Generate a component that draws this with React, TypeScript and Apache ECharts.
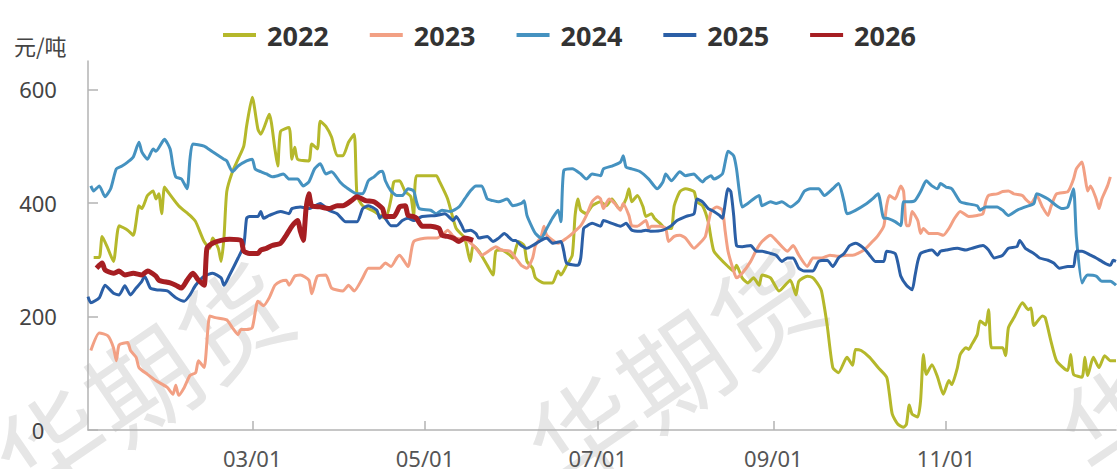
import React, { useEffect, useRef } from "react";
import * as echarts from "echarts";

// x values are day-of-year (Jan 1 = 0)
const xTickDays = [59, 120, 181, 243, 304];
const xTickLabels = ["03/01", "05/01", "07/01", "09/01", "11/01"];
const yTicks = [0, 200, 400, 600];
const seriesNames = ["2022", "2023", "2024", "2025", "2026"];
const seriesColors = ["#b5b82b", "#f2a084", "#4592c0", "#2b5fa6", "#a61e22"];

const s2022 = [[3,304],[5,304],[6,341],[8,320],[10,297],[12,360],[15,352],[17,343],[19,395],[20,390],[22,413],[24,421],[25,407],[26,416],[27,381],[28,428],[29,421],[33,395],[37,378],[39,367],[42,332],[44,320],[45,338],[47,320],[48,297],[49,338],[50,420],[52,455],[54,477],[56,500],[57,535],[59,586],[61,530],[62,521],[65,556],[67,495],[68,465],[69,526],[72,533],[73,477],[74,498],[75,477],[79,474],[80,504],[82,495],[83,544],[85,535],[87,516],[89,483],[91,483],[93,507],[95,521],[96,413],[98,395],[102,385],[106,373],[108,407],[109,437],[111,439],[113,420],[115,411],[116,378],[117,448],[121,448],[124,448],[125,439],[128,407],[131,355],[134,338],[136,297],[137,325],[139,315],[142,290],[144,273],[145,315],[147,317],[150,308],[151,303],[153,332],[155,325],[156,297],[158,285],[159,268],[162,259],[165,259],[167,280],[168,273],[170,290],[172,308],[173,378],[174,407],[175,387],[177,381],[179,395],[182,402],[184,395],[186,407],[188,393],[189,390],[191,407],[192,425],[193,402],[195,413],[197,393],[198,376],[200,381],[201,373],[203,364],[205,355],[207,355],[208,395],[210,420],[212,425],[215,420],[216,402],[218,395],[220,367],[221,338],[222,315],[224,303],[227,288],[229,280],[230,290],[232,268],[234,259],[236,268],[238,255],[239,273],[242,268],[245,245],[249,264],[251,238],[252,262],[255,271],[257,268],[259,255],[260,245],[262,185],[264,110],[266,101],[269,128],[271,114],[272,142],[274,140],[277,128],[280,110],[283,93],[284,63],[285,28],[287,10],[289,5],[290,10],[291,44],[292,28],[294,23],[295,52],[296,133],[297,98],[299,115],[301,93],[303,63],[305,87],[306,80],[308,110],[309,133],[311,145],[312,142],[313,150],[315,168],[316,192],[318,185],[319,212],[320,145],[322,145],[324,145],[325,131],[326,180],[328,198],[331,224],[333,212],[334,215],[335,184],[338,201],[339,198],[341,157],[343,122],[346,107],[347,105],[348,133],[349,98],[352,93],[353,128],[354,96],[356,128],[358,110],[360,131],[362,122],[364,122]];

const s2023 = [[2,140],[5,171],[8,166],[10,145],[11,122],[12,150],[15,154],[16,140],[18,128],[19,110],[22,98],[25,87],[29,75],[31,63],[32,79],[33,61],[35,75],[37,96],[39,101],[40,122],[42,110],[44,201],[46,198],[50,194],[52,180],[54,168],[55,177],[57,177],[59,180],[61,227],[63,219],[65,233],[67,255],[69,262],[71,264],[72,255],[74,271],[76,273],[79,264],[80,240],[82,271],[85,273],[87,250],[91,245],[93,255],[95,245],[98,268],[100,285],[104,285],[106,294],[108,288],[110,303],[111,308],[114,288],[116,332],[121,338],[124,338],[126,343],[128,352],[130,341],[131,338],[135,334],[138,320],[140,308],[143,317],[145,323],[147,317],[150,315],[152,303],[154,290],[156,285],[158,303],[159,325],[161,341],[162,359],[163,343],[167,329],[170,338],[172,346],[175,360],[177,378],[179,402],[181,411],[182,407],[183,390],[185,407],[187,399],[189,387],[190,399],[192,378],[193,360],[195,359],[198,369],[199,355],[200,359],[203,359],[205,355],[206,332],[208,341],[210,343],[212,338],[215,320],[217,329],[219,341],[221,385],[223,393],[225,387],[226,350],[227,315],[229,280],[230,268],[232,276],[235,297],[237,317],[239,332],[242,343],[244,334],[248,315],[250,325],[252,308],[255,288],[257,303],[260,303],[263,308],[266,306],[269,308],[271,308],[275,317],[278,332],[280,343],[282,359],[283,395],[284,413],[286,407],[288,430],[289,420],[290,360],[291,360],[292,385],[294,369],[295,346],[296,355],[298,346],[301,346],[303,343],[305,355],[307,373],[309,385],[312,376],[315,378],[317,381],[318,402],[319,413],[322,416],[324,420],[326,421],[328,416],[331,413],[332,407],[334,399],[336,413],[338,393],[340,378],[341,393],[343,416],[347,420],[349,442],[350,460],[352,472],[353,448],[354,421],[355,430],[357,407],[358,390],[359,407],[361,430],[362,446]];

const s2024 = [[2,430],[3,421],[5,430],[7,411],[9,425],[11,460],[13,465],[15,472],[17,481],[19,507],[20,490],[22,477],[24,495],[25,491],[28,512],[30,495],[31,465],[32,446],[34,442],[36,425],[37,477],[38,504],[42,500],[45,490],[49,477],[50,474],[52,455],[54,465],[57,474],[59,477],[60,460],[62,455],[64,451],[66,446],[68,448],[70,451],[72,442],[75,442],[77,430],[79,437],[81,460],[83,469],[85,451],[87,455],[90,437],[92,428],[96,416],[98,416],[100,439],[102,446],[104,455],[105,456],[106,439],[108,421],[110,413],[112,413],[114,425],[116,421],[117,402],[118,390],[122,387],[124,381],[126,387],[129,385],[132,393],[134,407],[136,421],[138,430],[140,430],[142,407],[144,404],[146,402],[149,407],[151,395],[154,399],[155,404],[156,378],[158,355],[159,346],[161,338],[163,355],[165,373],[167,387],[168,367],[169,457],[172,460],[175,451],[177,442],[179,451],[182,448],[183,460],[186,465],[189,472],[190,483],[191,463],[193,460],[196,455],[199,442],[202,425],[204,437],[205,451],[207,439],[210,455],[212,448],[215,451],[216,446],[218,437],[219,442],[221,448],[222,442],[225,451],[226,472],[227,491],[229,483],[230,460],[231,420],[232,393],[234,399],[236,407],[238,413],[239,395],[242,402],[244,399],[246,402],[249,393],[252,404],[254,421],[256,425],[259,425],[261,413],[264,425],[266,434],[268,402],[269,381],[272,387],[276,399],[278,407],[280,416],[282,373],[283,373],[286,367],[288,360],[289,402],[291,402],[293,404],[295,420],[297,439],[299,430],[301,425],[302,434],[304,428],[306,425],[309,402],[311,399],[315,395],[316,387],[318,393],[322,393],[324,387],[326,378],[329,387],[332,393],[335,399],[336,416],[340,407],[343,395],[345,390],[347,393],[349,425],[350,340],[352,259],[353,268],[354,273],[357,271],[359,262],[362,262],[364,255]];

const s2025 = [[1,235],[2,224],[5,233],[7,255],[10,241],[12,238],[14,254],[16,238],[18,250],[20,262],[21,271],[23,250],[25,247],[29,245],[32,233],[35,227],[37,238],[39,255],[42,271],[45,276],[48,268],[49,255],[51,273],[54,303],[56,325],[57,373],[58,376],[61,376],[62,385],[63,373],[65,378],[69,385],[72,381],[73,390],[76,393],[79,390],[83,399],[86,387],[89,381],[92,367],[96,367],[98,390],[100,395],[103,387],[104,373],[105,378],[108,360],[110,360],[112,369],[114,373],[116,369],[119,376],[124,378],[127,381],[130,369],[131,376],[133,360],[134,350],[136,352],[138,346],[139,338],[142,341],[144,332],[146,338],[148,346],[151,334],[152,334],[154,325],[156,320],[158,325],[161,334],[163,338],[165,329],[168,332],[169,315],[170,294],[174,290],[175,303],[176,355],[177,359],[179,364],[182,359],[183,369],[186,364],[189,359],[191,364],[193,352],[196,350],[198,352],[200,350],[204,352],[207,360],[209,369],[212,376],[215,381],[216,407],[218,402],[220,390],[222,385],[224,378],[225,373],[227,425],[228,420],[229,378],[230,325],[232,323],[235,325],[237,315],[239,315],[242,311],[244,308],[246,297],[248,303],[250,303],[252,285],[254,280],[257,280],[259,297],[262,299],[264,288],[266,303],[268,311],[270,325],[272,329],[275,320],[277,308],[279,297],[282,297],[283,315],[286,311],[287,294],[288,271],[290,255],[292,247],[293,271],[294,297],[295,311],[297,315],[299,317],[301,308],[302,315],[304,317],[308,320],[311,317],[313,320],[317,325],[319,317],[321,303],[324,308],[326,320],[329,323],[330,334],[332,320],[335,311],[337,303],[340,299],[342,294],[344,285],[347,288],[349,288],[350,315],[352,315],[355,308],[357,303],[360,294],[362,290],[363,299],[364,297]];

const s2026 = [[4,285],[6,294],[7,282],[10,276],[12,280],[14,273],[17,276],[20,273],[22,280],[25,271],[26,264],[30,259],[32,255],[34,250],[36,264],[38,276],[40,264],[42,255],[43,320],[45,329],[48,334],[51,336],[55,334],[56,315],[58,311],[61,311],[62,317],[64,320],[66,325],[69,329],[71,343],[73,359],[75,369],[76,350],[77,334],[78,390],[79,416],[80,395],[83,393],[86,390],[89,395],[91,395],[94,404],[96,411],[99,404],[102,402],[105,390],[106,376],[109,376],[111,393],[113,395],[114,378],[116,376],[117,373],[119,359],[122,359],[125,355],[126,343],[128,341],[130,338],[132,332],[134,338],[137,334]];

const seriesData = [s2022, s2023, s2024, s2025, s2026];
const watermarkChars = ["华", "期", "货"];

export default function App() {
  const ref = useRef<HTMLDivElement>(null);
  useEffect(() => {
    if (!ref.current) return;
    const chart = echarts.init(ref.current, undefined, { renderer: "svg" });
    const font = "'Noto Sans', 'Noto Sans CJK SC', sans-serif";
    const wmCenters = [
      [140, 380],
      [672, 366],
      [1205, 352],
    ];
    const ang = 0.6;
    const step = 110;
    const wm: any[] = [];
    wmCenters.forEach(([cx, cy]) => {
      watermarkChars.forEach((ch, i) => {
        const k = i - 1;
        wm.push({
          type: "text",
          x: cx + k * step * Math.cos(ang),
          y: cy - k * step * Math.sin(ang),
          rotation: ang,
          z: 0,
          silent: true,
          style: {
            text: ch,
            fontSize: 108,
            fontFamily: "'Noto Sans CJK SC', sans-serif",
            fill: "#e6e6e6",
            align: "center",
            verticalAlign: "middle",
            textAlign: "center",
            textVerticalAlign: "middle",
          },
        });
      });
    });
    chart.setOption({
      animation: false,
      backgroundColor: "#ffffff",
      textStyle: { fontFamily: font },
      legend: {
        data: seriesNames,
        left: 218,
        top: 16,
        icon: "rect",
        itemWidth: 33,
        itemHeight: 4,
        itemGap: 41,
        textStyle: {
          fontSize: 27,
          fontWeight: "bold",
          color: "#333",
          fontFamily: font,
          lineHeight: 28,
          padding: [0, 0, 0, 6],
        },
      },
      graphic: [
        ...wm,
        {
          type: "text",
          left: 14,
          top: 34,
          z: 10,
          style: {
            text: "元/吨",
            fontSize: 22,
            fill: "#444",
            fontFamily: "'Noto Sans CJK SC', sans-serif",
          },
        },
      ],
      grid: { left: 88, right: 1, top: 61, bottom: 36, containLabel: false },
      xAxis: {
        type: "value",
        min: 1,
        max: 364,
        splitLine: { show: false },
        axisLine: { show: true, lineStyle: { color: "#b3b3b3", width: 1.5 } },
        axisTick: {
          show: true,
          inside: true,
          length: 9,
          customValues: xTickDays,
          lineStyle: { color: "#b3b3b3", width: 1.5 },
        },
        axisLabel: {
          customValues: xTickDays,
          formatter: (v: number) => {
            const i = xTickDays.indexOf(v);
            return i >= 0 ? xTickLabels[i] : "";
          },
          fontSize: 22,
          color: "#555",
          margin: 17,
          fontFamily: font,
        },
      },
      yAxis: {
        type: "value",
        min: 0,
        max: 650,
        splitLine: { show: false },
        axisLine: { show: true, lineStyle: { color: "#b3b3b3", width: 1.5 } },
        axisTick: {
          show: true,
          inside: true,
          length: 10,
          customValues: yTicks,
          lineStyle: { color: "#b3b3b3", width: 1.5 },
        },
        axisLabel: {
          customValues: yTicks,
          fontSize: 22,
          color: "#444",
          align: "center",
          margin: 50,
          fontFamily: font,
        },
      },
      series: seriesNames.map((name, i) => ({
        name,
        type: "line",
        data: seriesData[i],
        showSymbol: false,
        symbol: "none",
        smooth: 0.2,
        z: 2 + i,
        color: seriesColors[i],
        lineStyle: { color: seriesColors[i], width: i === 4 ? 5 : 3 },
      })),
    });
    return () => chart.dispose();
  }, []);
  return (
    <div
      ref={ref}
      style={{ position: "fixed", left: 0, top: 0, width: 1117, height: 469 }}
    />
  );
}
